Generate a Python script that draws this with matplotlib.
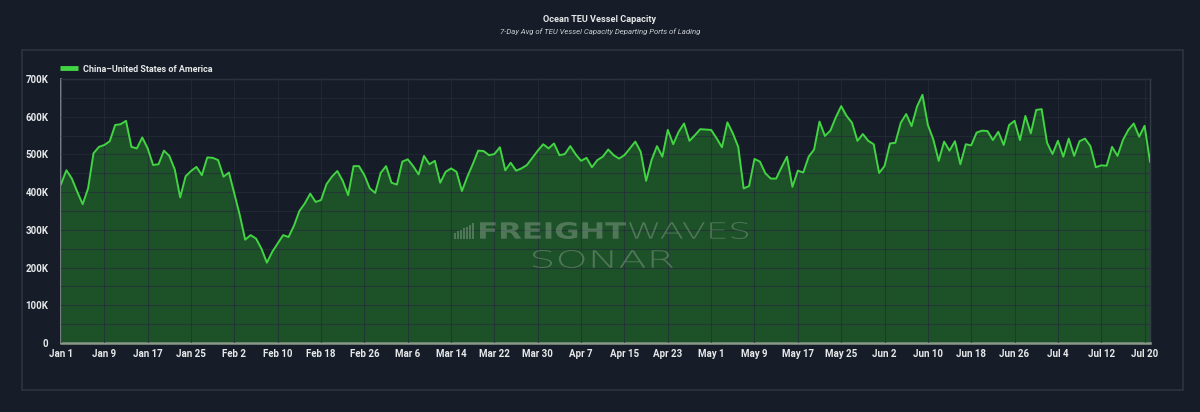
"""
Ocean TEU Vessel Capacity, China-United States of America, 7-day average.
Dark SONAR-style card with a filled green area chart.
"""
import numpy as np
import pandas as pd
import matplotlib
matplotlib.use("Agg")
import matplotlib.pyplot as plt
from matplotlib.patches import Rectangle, PathPatch
from matplotlib.lines import Line2D
from matplotlib.textpath import TextPath
from matplotlib.transforms import Affine2D
from matplotlib.font_manager import FontProperties
from matplotlib.ticker import FuncFormatter, MultipleLocator

BG = "#161d28"
CARD_EDGE = "#2c343f"
GRID = "#252e3a"
FILL = "#1d5229"
LINE = "#42d442"
TEXT = "#e6e8ea"
WM = "#b8c4b8"

W, H = 1200, 412

START_DATE = "2025-01-01"
SERIES_NAME = "China\u2013United States of America"

# 7-day avg TEU capacity, thousands, one value per day from Jan 1
teu_k = [
    421, 458, 436, 401, 368, 410, 503, 520, 525, 535,
    578, 580, 589, 520, 516, 545, 516, 472, 474, 510,
    496, 460, 386, 442, 456, 467, 445, 492, 491, 485,
    441, 452, 396, 339, 274, 286, 277, 250, 213, 242,
    264, 286, 281, 311, 350, 370, 396, 374, 379, 421,
    441, 456, 430, 392, 469, 469, 445, 410, 398, 451,
    469, 425, 420, 481, 487, 469, 447, 496, 474, 483,
    425, 454, 463, 454, 403, 441, 474, 510, 509, 498,
    501, 519, 458, 478, 457, 463, 472, 491, 510, 527,
    516, 529, 498, 501, 522, 500, 483, 491, 466, 485,
    494, 513, 498, 489, 498, 516, 534, 507, 430, 485,
    522, 494, 565, 527, 560, 582, 536, 551, 567, 566,
    565, 543, 519, 585, 556, 520, 410, 416, 488, 481,
    450, 436, 436, 466, 494, 414, 457, 452, 494, 513,
    587, 549, 563, 598, 628, 602, 584, 536, 554, 536,
    527, 451, 469, 529, 531, 584, 607, 575, 627, 658,
    578, 540, 483, 534, 510, 535, 474, 527, 524, 558,
    563, 562, 538, 560, 525, 578, 589, 538, 602, 556,
    618, 620, 531, 501, 536, 494, 542, 496, 535, 542,
    522, 466, 471, 470, 520, 496, 538, 565, 582, 547,
    576, 481,
]

dates = pd.date_range(START_DATE, periods=len(teu_k), freq="D")
values = np.array(teu_k) * 1000.0
tick_dates = pd.date_range(START_DATE, dates[-2], freq="8D")
tick_labels = [f"{d:%b} {d.day}" for d in tick_dates]

plt.rcParams.update({
    "font.family": ["Roboto", "DejaVu Sans"],
    "figure.facecolor": BG,
})


def logo_text(fig, s, x0, x1, ytop, ybot, weight):
    """Draw watermark text stretched into a pixel box (top-left origin)."""
    tp = TextPath((0, 0), s, size=1,
                  prop=FontProperties(family="DejaVu Sans", weight=weight))
    bb = tp.get_extents()
    sx = (x1 - x0) / W / bb.width
    sy = (ybot - ytop) / H / bb.height
    tr = (Affine2D().translate(-bb.x0, -bb.y0).scale(sx, sy)
          .translate(x0 / W, 1 - ybot / H) + fig.transFigure)
    fig.add_artist(PathPatch(tp, transform=tr, facecolor=WM, edgecolor="none",
                             alpha=0.33, zorder=5))


fig = plt.figure(figsize=(W / 100, H / 100), dpi=100)
fig.patch.set_facecolor(BG)

# card frame, behind everything
card = Rectangle((22 / W, 1 - 390 / H), 1161 / W, 340 / H,
                 transform=fig.transFigure, facecolor="none",
                 edgecolor=CARD_EDGE, linewidth=1.2, zorder=-5)
fig.add_artist(card)

ax = fig.add_axes([61 / W, 1 - 343 / H, 1089 / W, 264 / H])
ax.set_facecolor(BG)

ax.fill_between(dates, values, 0, color=FILL, zorder=2, linewidth=0)
ax.plot(dates, values, color=LINE, linewidth=1.4, zorder=3)

ax.set_xlim(dates[0], dates[-1])
ax.set_ylim(0, 700000)
ax.yaxis.set_major_locator(MultipleLocator(100000))
ax.yaxis.set_minor_locator(MultipleLocator(50000))
ax.yaxis.set_major_formatter(FuncFormatter(
    lambda v, _: "0" if v == 0 else f"{int(round(v / 1000))}K"))
ax.set_xticks(tick_dates)
ax.set_xticklabels(tick_labels)

ax.grid(True, which="both", axis="y", color=GRID, linewidth=0.8, alpha=0.7)
ax.grid(True, which="major", axis="x", color=GRID, linewidth=0.8, alpha=0.7)
ax.set_axisbelow(False)

for side in ("top", "right"):
    ax.spines[side].set_color("#343c47")
    ax.spines[side].set_linewidth(1.0)
ax.spines["left"].set_color("#8a9099")
ax.spines["left"].set_linewidth(1.2)
ax.spines["bottom"].set_color("#8a9a8a")
ax.spines["bottom"].set_linewidth(1.8)

ax.tick_params(axis="both", which="both", length=0, colors=TEXT, labelsize=7)
ax.tick_params(axis="y", pad=9)
ax.tick_params(axis="x", pad=4)
for lab in ax.get_xticklabels() + ax.get_yticklabels():
    lab.set_fontweight("bold")

# legend above plot area
handle = Line2D([], [], color=LINE, linewidth=3.5, solid_capstyle="butt")
leg = ax.legend([handle], [SERIES_NAME], loc="lower left",
                bbox_to_anchor=(-0.006, 1.0), frameon=False,
                handlelength=2.0, handletextpad=0.6, borderaxespad=0.2,
                prop={"size": 6.5, "weight": "bold"})
for t in leg.get_texts():
    t.set_color(TEXT)

# titles
fig.text(0.5, 1 - 19 / H, "Ocean TEU Vessel Capacity", ha="center", va="center",
         color=TEXT, fontsize=6.6, fontweight="bold")
fig.text(0.5, 1 - 32 / H, "7-Day Avg of TEU Vessel Capacity Departing Ports of Lading",
         ha="center", va="center", color="#c9ccd0", fontsize=5.6, style="italic")

# watermark
logo_text(fig, "FREIGHT", 480, 626, 222, 239, "bold")
logo_text(fig, "WAVES", 629, 748, 222, 239, "light")
logo_text(fig, "SONAR", 533, 673, 250, 268, "light")
for i in range(7):
    h = 6 + i * 1.6
    fig.add_artist(Rectangle(((454 + i * 3) / W, 1 - 239 / H), 1.6 / W, h / H,
                             transform=fig.transFigure, facecolor=WM,
                             alpha=0.33, zorder=5, linewidth=0))

fig.savefig("out.png", dpi=100, facecolor=BG)
